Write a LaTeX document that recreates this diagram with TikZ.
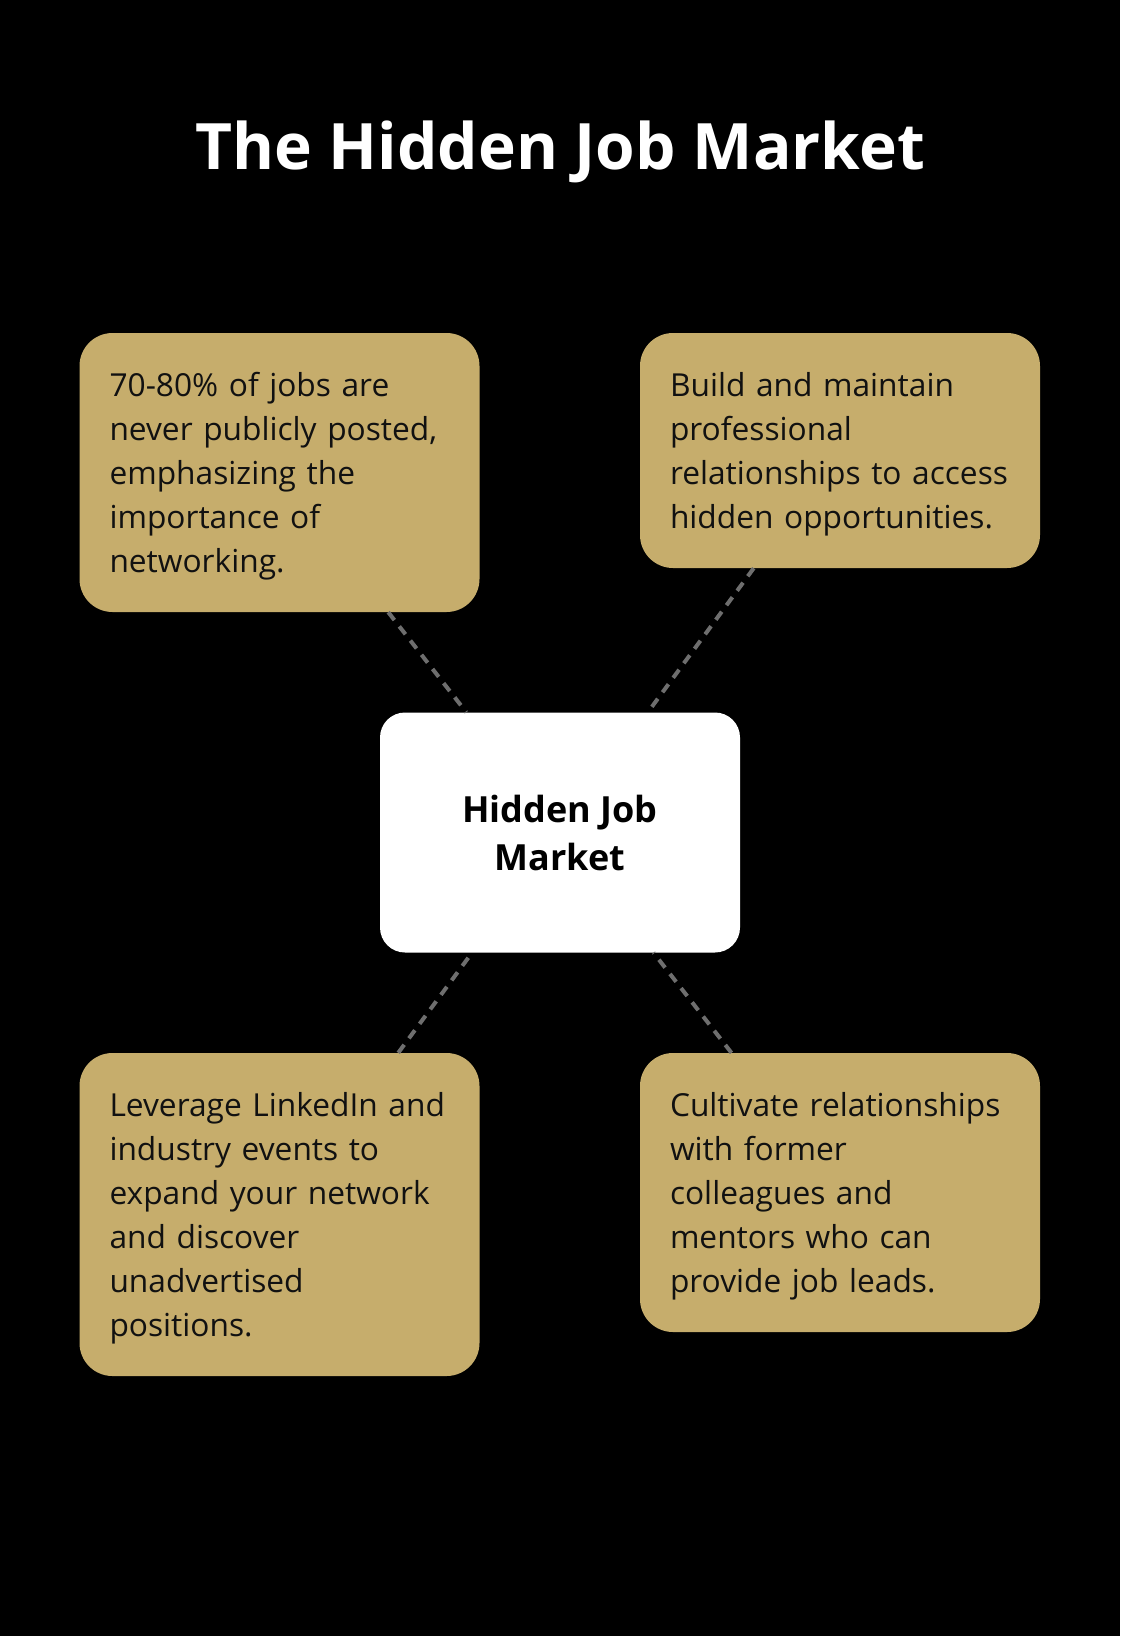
\documentclass[tikz,border=0pt]{standalone}
\usepackage{fontspec}
\setmainfont{Open Sans}
\usepackage{tikz}
\usetikzlibrary{positioning}
\definecolor{bg}{HTML}{000000}
\definecolor{gold}{HTML}{C6AD6C}
\definecolor{ink}{HTML}{111111}
\definecolor{dash}{HTML}{6E6E6E}
\tikzset{
  card/.style={rounded corners=33pt, draw=none, fill=gold, text=ink, inner xsep=30pt, inner ysep=0pt, text width=340pt, minimum width=400pt, align=left, font=\fontsize{31.7}{44}\selectfont, execute at begin node={\rule{0pt}{32pt}}},
  hub/.style={rounded corners=25pt, draw=none, fill=white, text=black, minimum width=360pt, minimum height=240pt, align=center, font=\bfseries\fontsize{36}{48}\selectfont},
  link/.style={draw=dash, line width=4pt, dash pattern=on 10pt off 8pt},
}
\begin{document}
\begin{tikzpicture}[x=1pt, y=-1pt]
  \fill[bg] (0,0) rectangle (1120,1636);
  \node[text=white, font=\bfseries\fontsize{64}{76}\selectfont](title) at (560,152){The Hidden Job Market};
  \node[hub](hub) at (560,832.5){Hidden Job\\Market};
  \node[card,minimum height=279pt](jobs) at (279.5,472.5){70-80\% of jobs are\\never publicly posted,\\emphasizing the\\importance of\\networking.};
  \node[card,minimum height=235pt](build) at (840,450.5){Build and maintain\\professional\\relationships to access\\hidden opportunities.};
  \node[card,minimum height=323pt](linked) at (279.5,1214.5){Leverage LinkedIn and\\industry events to\\expand your network\\and discover\\unadvertised\\positions.};
  \node[card,minimum height=279pt](mentor) at (840,1192.5){Cultivate relationships\\with former\\colleagues and\\mentors who can\\provide job leads.};
  \foreach \a in {jobs,build,linked,mentor}{\draw[link](\a)--(hub);}
\end{tikzpicture}
\end{document}
